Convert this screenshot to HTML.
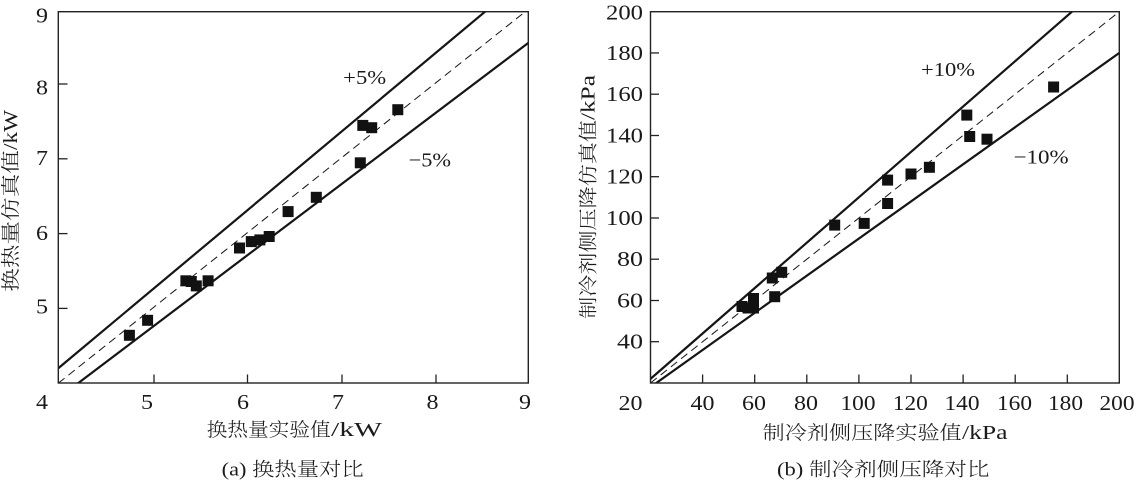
<!DOCTYPE html>
<html>
<head>
<meta charset="utf-8">
<style>
  html,body{margin:0;padding:0;background:#fff;}
  svg{display:block;}
  text{font-family:"Liberation Serif","Noto Serif CJK SC",serif;fill:#1a1a1a;}
  text.cjk{font-weight:300;}
</style>
</head>
<body>
<svg width="1135" height="482" viewBox="0 0 1135 482" xmlns="http://www.w3.org/2000/svg" font-family="'Liberation Serif','Noto Serif CJK SC',serif">
  <defs>
    <clipPath id="cl"><rect x="58.3" y="11.7" width="470" height="371.3"/></clipPath>
    <clipPath id="cr"><rect x="650.5" y="11.7" width="468.8" height="371.3"/></clipPath>
  </defs>
  <rect width="1135" height="482" fill="#fff"/>

  <!-- ================= LEFT CHART ================= -->
  <g clip-path="url(#cl)" stroke="#151515" fill="none">
    <line x1="58.3" y1="383.2" x2="528.3" y2="9.2" stroke-width="1" stroke-dasharray="8 5"/>
    <line x1="58.3" y1="368.24" x2="528.3" y2="-24.46" stroke-width="2.2"/>
    <line x1="58.3" y1="398.16" x2="528.3" y2="42.86" stroke-width="2.2"/>
  </g>
  <rect x="58.3" y="11.7" width="470" height="371.3" fill="none" stroke="#222" stroke-width="1.4"/>
  <g stroke="#222" stroke-width="1.3">
    <line x1="154" y1="383" x2="154" y2="374.5"/>
    <line x1="247.5" y1="383" x2="247.5" y2="374.5"/>
    <line x1="342" y1="383" x2="342" y2="374.5"/>
    <line x1="436" y1="383" x2="436" y2="374.5"/>
    <line x1="58.3" y1="84" x2="67.5" y2="84"/>
    <line x1="58.3" y1="158.8" x2="67.5" y2="158.8"/>
    <line x1="58.3" y1="233.6" x2="67.5" y2="233.6"/>
    <line x1="58.3" y1="308.4" x2="67.5" y2="308.4"/>
  </g>
  <!-- markers left -->
  <g fill="#111">
    <rect x="123.9" y="329.8" width="11" height="11"/>
    <rect x="142.1" y="314.8" width="11" height="11"/>
    <rect x="180.4" y="275.3" width="11" height="11"/>
    <rect x="185.8" y="276" width="11" height="11"/>
    <rect x="190.8" y="280.4" width="11" height="11"/>
    <rect x="202.6" y="275.3" width="11" height="11"/>
    <rect x="234" y="242.5" width="11" height="11"/>
    <rect x="245.8" y="236.1" width="11" height="11"/>
    <rect x="254.4" y="234.4" width="11" height="11"/>
    <rect x="263.7" y="231" width="11" height="11"/>
    <rect x="282.6" y="206.1" width="11" height="11"/>
    <rect x="310.8" y="191.8" width="11" height="11"/>
    <rect x="354.8" y="157.3" width="11" height="11"/>
    <rect x="357.3" y="119.9" width="11" height="11"/>
    <rect x="366.2" y="122.2" width="11" height="11"/>
    <rect x="392.3" y="104.2" width="11" height="11"/>
  </g>
  <!-- tick labels left -->
  <g font-size="21" text-anchor="middle">
    <text x="42" y="409" textLength="12" lengthAdjust="spacingAndGlyphs">4</text>
    <text x="147" y="409" textLength="12" lengthAdjust="spacingAndGlyphs">5</text>
    <text x="243" y="409" textLength="12" lengthAdjust="spacingAndGlyphs">6</text>
    <text x="338" y="409" textLength="12" lengthAdjust="spacingAndGlyphs">7</text>
    <text x="432.5" y="409" textLength="12" lengthAdjust="spacingAndGlyphs">8</text>
    <text x="525" y="409" textLength="12" lengthAdjust="spacingAndGlyphs">9</text>
  </g>
  <g font-size="21" text-anchor="end">
    <text x="48" y="22.5" textLength="12" lengthAdjust="spacingAndGlyphs">9</text>
    <text x="48" y="94.3" textLength="12" lengthAdjust="spacingAndGlyphs">8</text>
    <text x="48" y="165" textLength="12" lengthAdjust="spacingAndGlyphs">7</text>
    <text x="48" y="240" textLength="12" lengthAdjust="spacingAndGlyphs">6</text>
    <text x="48" y="313.5" textLength="12" lengthAdjust="spacingAndGlyphs">5</text>
  </g>
  <!-- annotations left -->
  <text x="343.2" y="84" font-size="20" textLength="43" lengthAdjust="spacingAndGlyphs">+5%</text>
  <text x="408.6" y="166.5" font-size="20" textLength="42.4" lengthAdjust="spacingAndGlyphs">−5%</text>
  <!-- axis titles left -->
  <text class="cjk" x="206.7" y="436" font-size="19" textLength="124" lengthAdjust="spacingAndGlyphs">换热量实验值</text>
  <text x="331" y="436" font-size="20" textLength="51" lengthAdjust="spacingAndGlyphs">/kW</text>
  <text class="cjk" x="221.7" y="475.5" font-size="19" textLength="142" lengthAdjust="spacingAndGlyphs">(a) 换热量对比</text>
  <text class="cjk" transform="translate(17,291.7) rotate(-90)" x="0" y="0" font-size="19" textLength="141.7" lengthAdjust="spacingAndGlyphs">换热量仿真值</text>
  <text transform="translate(17,150) rotate(-90)" x="0" y="0" font-size="20" textLength="40" lengthAdjust="spacingAndGlyphs">/kW</text>

  <!-- ================= RIGHT CHART ================= -->
  <g clip-path="url(#cr)" stroke="#151515" fill="none">
    <line x1="650.5" y1="383" x2="1119.3" y2="11.7" stroke-width="1" stroke-dasharray="8 5"/>
    <line x1="650.5" y1="378.87" x2="1119.3" y2="-29.56" stroke-width="2.2"/>
    <line x1="650.5" y1="387.13" x2="1119.3" y2="52.95" stroke-width="2.2"/>
  </g>
  <rect x="650.5" y="11.7" width="468.8" height="371.3" fill="none" stroke="#222" stroke-width="1.4"/>
  <g stroke="#222" stroke-width="1.3">
    <line x1="702.6" y1="383" x2="702.6" y2="374.5"/>
    <line x1="754.7" y1="383" x2="754.7" y2="374.5"/>
    <line x1="806.8" y1="383" x2="806.8" y2="374.5"/>
    <line x1="858.9" y1="383" x2="858.9" y2="374.5"/>
    <line x1="911" y1="383" x2="911" y2="374.5"/>
    <line x1="963.1" y1="383" x2="963.1" y2="374.5"/>
    <line x1="1015.2" y1="383" x2="1015.2" y2="374.5"/>
    <line x1="1067.3" y1="383" x2="1067.3" y2="374.5"/>
    <line x1="650.5" y1="52.95" x2="659" y2="52.95"/>
    <line x1="650.5" y1="94.2" x2="659" y2="94.2"/>
    <line x1="650.5" y1="135.5" x2="659" y2="135.5"/>
    <line x1="650.5" y1="176.7" x2="659" y2="176.7"/>
    <line x1="650.5" y1="218" x2="659" y2="218"/>
    <line x1="650.5" y1="259.2" x2="659" y2="259.2"/>
    <line x1="650.5" y1="300.5" x2="659" y2="300.5"/>
    <line x1="650.5" y1="341.7" x2="659" y2="341.7"/>
  </g>
  <!-- markers right -->
  <g fill="#111">
    <rect x="736.5" y="301" width="11" height="11"/>
    <rect x="742.5" y="302.5" width="11" height="11"/>
    <rect x="748" y="302.5" width="11" height="11"/>
    <rect x="748" y="293" width="11" height="11"/>
    <rect x="766.8" y="272.5" width="11" height="11"/>
    <rect x="776.2" y="266.8" width="11" height="11"/>
    <rect x="769.2" y="291.2" width="11" height="11"/>
    <rect x="829.2" y="219.6" width="11" height="11"/>
    <rect x="858.7" y="217.9" width="11" height="11"/>
    <rect x="882.1" y="174.6" width="11" height="11"/>
    <rect x="882.1" y="198" width="11" height="11"/>
    <rect x="905.5" y="168.5" width="11" height="11"/>
    <rect x="923.9" y="161.8" width="11" height="11"/>
    <rect x="961.3" y="109.6" width="11" height="11"/>
    <rect x="964.2" y="131" width="11" height="11"/>
    <rect x="981.5" y="133.7" width="11" height="11"/>
    <rect x="1048.1" y="81.5" width="11" height="11"/>
  </g>
  <!-- tick labels right -->
  <g font-size="21" text-anchor="middle">
    <text x="630.5" y="410" textLength="24" lengthAdjust="spacingAndGlyphs">20</text>
    <text x="702.5" y="410" textLength="24" lengthAdjust="spacingAndGlyphs">40</text>
    <text x="754" y="410" textLength="24" lengthAdjust="spacingAndGlyphs">60</text>
    <text x="806" y="410" textLength="24" lengthAdjust="spacingAndGlyphs">80</text>
    <text x="858" y="410" textLength="35" lengthAdjust="spacingAndGlyphs">100</text>
    <text x="910.3" y="410" textLength="35" lengthAdjust="spacingAndGlyphs">120</text>
    <text x="962" y="410" textLength="35" lengthAdjust="spacingAndGlyphs">140</text>
    <text x="1014.5" y="410" textLength="35" lengthAdjust="spacingAndGlyphs">160</text>
    <text x="1065.5" y="410" textLength="35" lengthAdjust="spacingAndGlyphs">180</text>
    <text x="1117" y="410" textLength="35" lengthAdjust="spacingAndGlyphs">200</text>
  </g>
  <g font-size="21" text-anchor="end">
    <text x="643" y="19.5" textLength="37" lengthAdjust="spacingAndGlyphs">200</text>
    <text x="643" y="60" textLength="37" lengthAdjust="spacingAndGlyphs">180</text>
    <text x="643" y="101" textLength="37" lengthAdjust="spacingAndGlyphs">160</text>
    <text x="643" y="142.3" textLength="37" lengthAdjust="spacingAndGlyphs">140</text>
    <text x="643" y="183.5" textLength="37" lengthAdjust="spacingAndGlyphs">120</text>
    <text x="643" y="224.8" textLength="37" lengthAdjust="spacingAndGlyphs">100</text>
    <text x="643" y="266" textLength="26" lengthAdjust="spacingAndGlyphs">80</text>
    <text x="643" y="307.3" textLength="26" lengthAdjust="spacingAndGlyphs">60</text>
    <text x="643" y="348.5" textLength="26" lengthAdjust="spacingAndGlyphs">40</text>
  </g>
  <!-- annotations right -->
  <text x="921" y="76" font-size="20" textLength="54" lengthAdjust="spacingAndGlyphs">+10%</text>
  <text x="1013.6" y="163.5" font-size="20" textLength="55" lengthAdjust="spacingAndGlyphs">−10%</text>
  <!-- axis titles right -->
  <text class="cjk" x="762.7" y="439" font-size="19" textLength="199" lengthAdjust="spacingAndGlyphs">制冷剂侧压降实验值</text>
  <text x="962" y="439" font-size="20" textLength="45.5" lengthAdjust="spacingAndGlyphs">/kPa</text>
  <text class="cjk" x="777" y="475.5" font-size="19" textLength="212.5" lengthAdjust="spacingAndGlyphs">(b) 制冷剂侧压降对比</text>
  <text class="cjk" transform="translate(594.5,318.8) rotate(-90)" x="0" y="0" font-size="19" textLength="198.8" lengthAdjust="spacingAndGlyphs">制冷剂侧压降仿真值</text>
  <text transform="translate(594.5,120) rotate(-90)" x="0" y="0" font-size="20" textLength="45" lengthAdjust="spacingAndGlyphs">/kPa</text>
</svg>
</body>
</html>
